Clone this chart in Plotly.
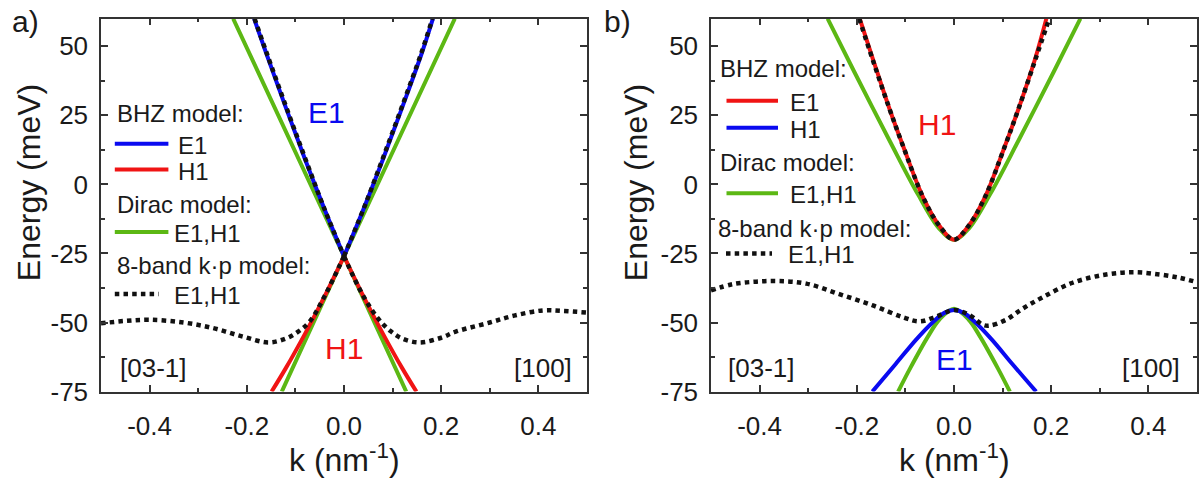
import plotly.graph_objects as go

W, H = 1201, 488

# ---------------- panel a : band dispersion ----------------
# BHZ model, E1 band (upper cone); None splits left/right branches at the Dirac point
ka_bhz_e1 = [-0.185, -0.16, -0.12, -0.08, -0.04, 0.0, None, 0.0, 0.04, 0.08, 0.12, 0.16, 0.183]
Ea_bhz_e1 = [60, 47.5, 28, 9, -9, -26, None, -26, -9, 9, 28, 47.5, 60]
# BHZ model, H1 band (lower cone)
ka_bhz_h1 = [-0.149, -0.12, -0.08, -0.04, 0.0, None, 0.0, 0.04, 0.08, 0.12, 0.149]
Ea_bhz_h1 = [-75, -66.6, -54, -40.5, -26, None, -26, -40.5, -54, -66.6, -75]
# Dirac model, E1 and H1
ka_dirac_e1 = [-0.228, 0.0, 0.228]
Ea_dirac_e1 = [60, -26, 60]
ka_dirac_h1 = [-0.128, 0.0, 0.128]
Ea_dirac_h1 = [-75, -26, -75]
# 8-band k.p model, E1 and H1
ka_kp_e1 = [-0.184, -0.16, -0.12, -0.08, -0.04, 0.0, None, 0.0, 0.04, 0.08, 0.12, 0.16, 0.182]
Ea_kp_e1 = [60, 48, 28.5, 9.5, -9, -26, None, -26, -9, 9.5, 28.5, 48, 60]
ka_kp_h1 = [-0.5, -0.45, -0.4, -0.33, -0.27, -0.21, -0.155, -0.12, -0.095, -0.07, -0.04, 0.0,
            None, 0.0, 0.04, 0.07, 0.095, 0.12, 0.155, 0.2, 0.23, 0.3, 0.35, 0.41, 0.45, 0.5]
Ea_kp_h1 = [-50.3, -49.4, -49.0, -50.0, -52.0, -55.0, -57.2, -55.8, -53.4, -49.5, -40.5, -26,
            None, -26, -40.5, -48.5, -53.0, -55.8, -57.2, -55.5, -53.3, -50.0, -47.5, -45.6, -45.8, -46.4]

# ---------------- panel b : band dispersion ----------------
# BHZ model, E1 (upper, red) and H1 (lower, blue)
kb_bhz_e1 = [-0.194, -0.167, -0.133, -0.105, -0.064, -0.03, 0.0, 0.03, 0.064, 0.105, 0.133, 0.167, 0.19]
Eb_bhz_e1 = [60, 45.5, 27.5, 14, -4.5, -15, -20, -15, -4.5, 14, 27.5, 45.5, 60]
kb_bhz_h1 = [-0.168, -0.12, -0.077, -0.043, -0.02, 0.0, 0.02, 0.043, 0.077, 0.12, 0.169]
Eb_bhz_h1 = [-75, -65, -56, -49.8, -46.5, -45.5, -46.5, -49.8, -56, -65, -75]
# Dirac model, E1,H1
kb_dirac_e1 = [-0.26, -0.205, -0.133, -0.0745, -0.03, 0.0, 0.03, 0.0745, 0.133, 0.205, 0.26]
Eb_dirac_e1 = [60, 40.7, 16, -3.5, -16.1, -20, -16.1, -3.5, 16, 40.7, 60]
kb_dirac_h1 = [-0.115, -0.09, -0.054, -0.03, 0.0, 0.03, 0.054, 0.09, 0.115]
Eb_dirac_h1 = [-75, -66.5, -55.2, -48.9, -45, -48.9, -55.2, -66.5, -75]
# 8-band k.p model, E1,H1
kb_kp_e1 = [-0.195, -0.167, -0.133, -0.105, -0.064, -0.03, 0.0, 0.03, 0.064, 0.105, 0.133, 0.167, 0.196]
Eb_kp_e1 = [60, 45, 27.5, 14, -4.5, -15, -20, -15, -4.5, 14, 27.5, 45, 60]
kb_kp_h1 = [-0.5, -0.455, -0.407, -0.36, -0.304, -0.236, -0.167, -0.105, -0.071, -0.037, 0.0,
            0.032, 0.059, 0.073, 0.107, 0.142, 0.183, 0.244, 0.313, 0.371, 0.423, 0.464, 0.5]
Eb_kp_h1 = [-38.4, -36.1, -35.2, -35.0, -35.9, -39.7, -43.8, -48.1, -49.6, -47.9, -45.5,
            -47.3, -50.8, -51.1, -49.0, -44.9, -40.8, -35.6, -32.6, -31.8, -32.6, -33.8, -35.4]

# ---------------- axis ticks ----------------
k_ticks = [-0.4, -0.2, 0.0, 0.2, 0.4]
k_labels = ["-0.4", "-0.2", "0.0", "0.2", "0.4"]
k_minor = [-0.3, -0.1, 0.1, 0.3]
E_ticks = [50, 25, 0, -25, -50, -75]
E_labels = ["50", "25", "0", "-25", "-50", "-75"]
E_minor = [37.5, 12.5, -12.5, -37.5, -62.5]

BLUE = "#0a0af0"
RED = "#f01414"
GREEN = "#5cb814"
DOT = "#111111"
FRAME = "#333333"
TXT = "#1a1a1a"
FONT = "Liberation Sans, Arial, sans-serif"

fig = go.Figure()


def add_panel(xa, ya, curves):
    for k, e, color, dash, shape in curves:
        fig.add_trace(go.Scatter(
            x=k, y=e, mode="lines", xaxis=xa, yaxis=ya, showlegend=False,
            connectgaps=False, hoverinfo="skip",
            line=dict(color=color, width=4.5 if dash else 4, dash=dash, shape=shape)))


DOTS = "4.5px,4.2px"
add_panel("x", "y", [
    (ka_dirac_e1, Ea_dirac_e1, GREEN, None, "linear"),
    (ka_dirac_h1, Ea_dirac_h1, GREEN, None, "linear"),
    (ka_bhz_e1, Ea_bhz_e1, BLUE, None, "spline"),
    (ka_bhz_h1, Ea_bhz_h1, RED, None, "spline"),
    (ka_kp_e1, Ea_kp_e1, DOT, DOTS, "spline"),
    (ka_kp_h1, Ea_kp_h1, DOT, DOTS, "spline"),
])
add_panel("x2", "y2", [
    (kb_dirac_e1, Eb_dirac_e1, GREEN, None, "spline"),
    (kb_dirac_h1, Eb_dirac_h1, GREEN, None, "spline"),
    (kb_bhz_h1, Eb_bhz_h1, BLUE, None, "spline"),
    (kb_bhz_e1, Eb_bhz_e1, RED, None, "spline"),
    (kb_kp_e1, Eb_kp_e1, DOT, DOTS, "spline"),
    (kb_kp_h1, Eb_kp_h1, DOT, DOTS, "spline"),
])


def px(x):
    return x / W


def py(y):
    return 1 - y / H


tick_common = dict(ticks="inside", ticklen=7, tickwidth=1.5, tickcolor=FRAME,
                   showline=True, linewidth=1.5, linecolor=FRAME, mirror="ticks",
                   showgrid=False, zeroline=False,
                   tickfont=dict(size=26, color=TXT, family=FONT))


def xaxis(domain, anchor):
    return dict(domain=domain, anchor=anchor, range=[-0.5, 0.5],
                tickmode="array", tickvals=k_ticks, ticktext=k_labels,
                minor=dict(tickmode="array", tickvals=k_minor, ticks="inside", ticklen=4,
                           tickwidth=1.5, tickcolor=FRAME),
                ticklabelstandoff=10, **tick_common)


def yaxis(domain, anchor):
    return dict(domain=domain, anchor=anchor, range=[-75, 60],
                tickmode="array", tickvals=E_ticks, ticktext=E_labels,
                minor=dict(tickmode="array", tickvals=E_minor, ticks="inside", ticklen=4,
                           tickwidth=1.5, tickcolor=FRAME),
                ticklabelstandoff=6, **tick_common)


ydom = [(H - 404) / H, (H - 19.3) / H]
fig.update_layout(
    xaxis=xaxis([px(101), px(587)], "y"),
    yaxis=yaxis(ydom, "x"),
    xaxis2=xaxis([px(711), px(1197)], "y2"),
    yaxis2=yaxis(ydom, "x2"),
)

ann = []
shapes = []


def text(x, y, s, size=24, color=TXT, xanchor="left", xref="paper", yref="paper", angle=0):
    ann.append(dict(x=x, y=y, xref=xref, yref=yref, text=s, showarrow=False,
                    xanchor=xanchor, yanchor="middle", textangle=angle,
                    font=dict(size=size, color=color, family=FONT)))


def sample(x0, x1, y, color, dash=None):
    shapes.append(dict(type="line", xref="paper", yref="paper",
                       x0=px(x0), x1=px(x1), y0=py(y), y1=py(y),
                       line=dict(color=color, width=4.5 if dash else 4, dash=dash)))


# panel labels and axis titles
for x0, lab, ycx, xcx in [(10, "a)", 29, 344), (602, "b)", 636, 954)]:
    text(px(x0), py(22), lab, size=30)
    text(px(ycx), py(189), "Energy (meV)", size=32, xanchor="center", angle=-90)
    text(px(xcx), py(473), "k (nm<sup>-1</sup>)", size=32, xanchor="center")

# legend, panel a
text(px(114.8), py(117), "BHZ model:")
sample(114.8, 168.4, 148.3, BLUE)
text(px(176), py(150), "E1")
sample(114.8, 168.4, 175, RED)
text(px(176), py(177), "H1")
text(px(114.8), py(211), "Dirac model:")
sample(114.8, 168.4, 239.3, GREEN)
text(px(172), py(241), "E1,H1")
text(px(114.8), py(273.5), "8-band k·p model:")
sample(114.8, 158.8, 303.3, DOT, DOTS)
text(px(172), py(305), "E1,H1")

# legend, panel b
text(px(718), py(71), "BHZ model:")
sample(726.5, 778, 104, RED)
text(px(788), py(106), "E1")
sample(726.5, 778, 131.7, BLUE)
text(px(788), py(133.5), "H1")
text(px(718), py(167.5), "Dirac model:")
sample(726.5, 778, 199.3, GREEN)
text(px(788), py(201), "E1,H1")
text(px(716), py(236), "8-band k·p model:")
sample(726, 772, 261.5, DOT, DOTS)
text(px(786), py(263), "E1,H1")

# band labels and crystal directions
text(-0.035, 26, "E1", size=30, color=BLUE, xanchor="center", xref="x", yref="y")
text(0.0, -59.5, "H1", size=30, color=RED, xanchor="center", xref="x", yref="y")
text(-0.466, -66.3, "[03-1]", size=26, xref="x", yref="y")
text(0.474, -66.3, "[100]", size=26, xanchor="right", xref="x", yref="y")
text(-0.035, 21.6, "H1", size=30, color=RED, xanchor="center", xref="x2", yref="y2")
text(0.0, -63.5, "E1", size=30, color=BLUE, xanchor="center", xref="x2", yref="y2")
text(-0.470, -66.3, "[03-1]", size=26, xref="x2", yref="y2")
text(0.469, -66.3, "[100]", size=26, xanchor="right", xref="x2", yref="y2")

fig.update_layout(
    width=W, height=H, margin=dict(l=0, r=0, t=0, b=0),
    paper_bgcolor="white", plot_bgcolor="white",
    annotations=ann, shapes=shapes, showlegend=False,
    font=dict(family=FONT, color=TXT),
)

fig.write_html("out.html")
